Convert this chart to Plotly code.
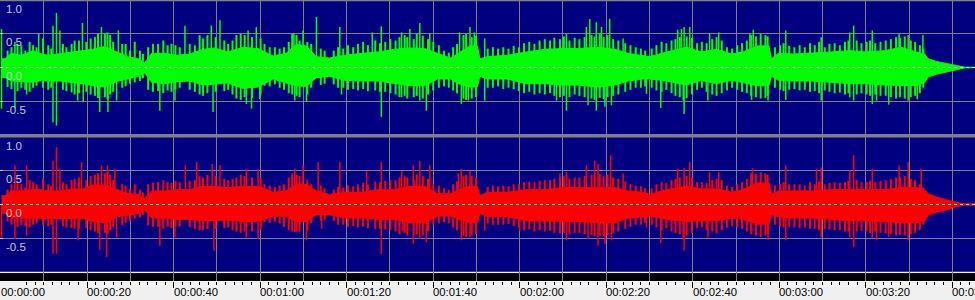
import plotly.graph_objects as go

# ---------------- data ----------------
# solid core of each channel (seconds, amplitude)
t_env = [0.2, 1.0, 2.5, 4.8, 7.5, 9.5, 11.0, 13.6, 16.8, 19.0,
         21.3, 24.0, 27.1, 29.4, 31.8, 33.3, 34.9, 38.0, 40.6, 43.7,
         46.8, 49.5, 52.5, 56.0, 59.5, 63.0, 66.0, 68.3, 70.6, 73.0,
         76.0, 79.5, 83.5, 87.3, 91.0, 94.5, 98.0, 101.0, 104.0, 105.8,
         108.5, 110.2, 110.8, 112.5, 117.0, 121.5, 126.0, 129.6, 133.5, 138.0,
         142.0, 145.0, 148.5,
         150.0, 154.0, 158.5, 162.0, 165.5, 169.0, 171.6, 175.0, 177.6, 178.2,
         179.8, 183.2, 187.4, 192.0, 196.3, 200.0, 204.4, 208.2, 211.7, 213.6,
         214.4, 216.3, 218.6, 221.0, 223.0, 225.6]

green_hi = [0.13, 0.13, 0.21, 0.18, 0.25, 0.20, 0.18, 0.20, 0.23, 0.25,
            0.27, 0.31, 0.23, 0.16, 0.13, 0.07, 0.21, 0.21, 0.18, 0.20,
            0.27, 0.29, 0.23, 0.30, 0.28, 0.17, 0.21, 0.34, 0.32, 0.16,
            0.14, 0.18, 0.21, 0.23, 0.27, 0.29, 0.28, 0.21, 0.14, 0.21,
            0.32, 0.32, 0.13, 0.16, 0.18, 0.23, 0.27, 0.28, 0.28, 0.30,
            0.27, 0.21, 0.18,
            0.16, 0.23, 0.30, 0.23, 0.27, 0.20, 0.23, 0.32, 0.32, 0.13,
            0.21, 0.20, 0.21, 0.23, 0.25, 0.23, 0.25, 0.30, 0.23, 0.20,
            0.13, 0.09, 0.06, 0.025, 0.005, 0.005]
green_lo = [-0.15, -0.15, -0.20, -0.21, -0.22, -0.19, -0.20, -0.20, -0.22, -0.24,
            -0.27, -0.29, -0.20, -0.17, -0.13, -0.08, -0.22, -0.24, -0.21, -0.20,
            -0.26, -0.25, -0.23, -0.31, -0.29, -0.17, -0.23, -0.27, -0.28, -0.15,
            -0.13, -0.19, -0.20, -0.20, -0.24, -0.27, -0.27, -0.17, -0.17, -0.24,
            -0.29, -0.29, -0.13, -0.17, -0.17, -0.24, -0.24, -0.26, -0.26, -0.29,
            -0.26, -0.20, -0.17,
            -0.17, -0.20, -0.26, -0.19, -0.24, -0.19, -0.22, -0.27, -0.27, -0.13,
            -0.19, -0.20, -0.20, -0.22, -0.24, -0.24, -0.26, -0.27, -0.27, -0.22,
            -0.14, -0.10, -0.07, -0.03, -0.005, -0.005]
red_hi = [0.13, 0.13, 0.20, 0.20, 0.22, 0.22, 0.20, 0.20, 0.23, 0.23,
          0.29, 0.29, 0.22, 0.16, 0.15, 0.09, 0.20, 0.20, 0.22, 0.22,
          0.27, 0.27, 0.25, 0.27, 0.27, 0.18, 0.20, 0.30, 0.30, 0.20,
          0.15, 0.18, 0.18, 0.22, 0.22, 0.27, 0.27, 0.16, 0.16, 0.22,
          0.27, 0.27, 0.13, 0.18, 0.18, 0.22, 0.22, 0.25, 0.25, 0.25,
          0.25, 0.20, 0.18,
          0.15, 0.22, 0.27, 0.23, 0.23, 0.18, 0.22, 0.32, 0.32, 0.15,
          0.20, 0.20, 0.20, 0.22, 0.22, 0.22, 0.22, 0.25, 0.25, 0.22,
          0.16, 0.11, 0.07, 0.03, 0.01, 0.01]
red_lo = [-0.13, -0.13, -0.20, -0.20, -0.21, -0.20, -0.20, -0.20, -0.21, -0.21,
          -0.25, -0.27, -0.18, -0.16, -0.13, -0.08, -0.20, -0.20, -0.22, -0.22,
          -0.24, -0.24, -0.23, -0.25, -0.25, -0.17, -0.18, -0.25, -0.25, -0.15,
          -0.15, -0.20, -0.20, -0.22, -0.22, -0.27, -0.27, -0.17, -0.17, -0.22,
          -0.27, -0.27, -0.13, -0.18, -0.18, -0.24, -0.24, -0.25, -0.25, -0.27,
          -0.27, -0.20, -0.18,
          -0.17, -0.22, -0.25, -0.24, -0.24, -0.20, -0.22, -0.29, -0.29, -0.15,
          -0.18, -0.20, -0.20, -0.22, -0.24, -0.24, -0.25, -0.27, -0.27, -0.24,
          -0.16, -0.11, -0.08, -0.03, -0.01, -0.01]

# jagged fringe columns around the core (seconds, top, bottom)
t_fringe = [1.6, 2.5, 3.9, 4.8, 5.7, 6.7, 7.5, 8.3, 9.8, 11.0,
            11.7, 14.4, 15.2, 16.4, 17.1, 18.1, 19.8, 20.8, 21.8, 22.5,
            24.1, 24.7, 25.3, 26.0, 28.1, 28.9, 29.9, 31.0, 32.2, 32.9,
            34.1, 35.2, 36.4, 37.6, 38.6, 39.5, 40.4, 41.4, 43.7, 44.9,
            46.0, 46.8, 47.8, 49.7, 51.7, 52.6, 53.6, 54.5, 55.5, 56.4,
            58.1, 60.1, 61.0, 62.2, 63.4, 64.5, 65.5, 66.6, 67.4, 68.4,
            69.1, 70.9, 71.8, 74.0, 74.9,
            77.0, 78.0, 79.2, 80.3, 81.5, 82.6, 83.8, 84.9, 86.6, 87.7,
            88.9, 90.1, 91.3, 92.2, 93.4, 94.0, 95.5, 96.2, 97.6, 98.8,
            100.0, 101.3, 102.5, 103.6, 104.6, 105.5, 107.0, 107.6, 108.9, 109.9,
            112.6, 113.8, 115.0, 116.2, 117.4, 118.6, 119.8, 121.0, 122.2, 123.4,
            124.6, 125.8, 127.0, 128.0, 129.3, 130.2, 131.5, 132.7, 133.8, 135.0,
            136.6, 137.3, 138.5, 139.4, 140.3, 141.6, 142.8, 144.4, 145.6, 146.8,
            148.0, 149.0,
            150.5, 151.6, 152.8, 153.9, 155.1, 156.0, 157.0, 158.6, 159.8, 161.0,
            162.1, 163.2, 164.5, 165.5, 166.7, 167.9, 169.1, 170.3, 171.4, 172.5,
            173.5, 174.6, 175.7, 176.8, 177.3, 179.0, 180.2, 181.0, 182.3, 183.5,
            184.7, 185.9, 187.1, 188.2, 189.2, 190.5, 191.6, 192.8, 194.0, 195.2,
            196.0, 197.9, 199.0, 200.2, 201.0, 202.2, 203.4, 204.6, 205.8, 207.0,
            207.9, 209.0, 210.4, 211.4, 212.5, 213.3]

green_f_hi = [0.25, 0.30, 0.35, 0.33, 0.25, 0.38, 0.33, 0.30, 0.43, 0.33,
              0.28, 0.35, 0.30, 0.35, 0.40, 0.40, 0.38, 0.43, 0.45, 0.50,
              0.50, 0.52, 0.48, 0.38, 0.35, 0.35, 0.25, 0.38, 0.25, 0.20,
              0.30, 0.35, 0.35, 0.40, 0.33, 0.35, 0.33, 0.30, 0.35, 0.33,
              0.48, 0.43, 0.48, 0.45, 0.40, 0.35, 0.40, 0.48, 0.50, 0.48,
              0.45, 0.43, 0.35, 0.30, 0.30, 0.28, 0.30, 0.38, 0.50, 0.48,
              0.40, 0.38, 0.35, 0.28, 0.25,
              0.25, 0.30, 0.28, 0.33, 0.30, 0.35, 0.38, 0.33, 0.40, 0.36,
              0.38, 0.42, 0.40, 0.45, 0.48, 0.45, 0.42, 0.50, 0.47, 0.42,
              0.38, 0.33, 0.25, 0.22, 0.30, 0.35, 0.48, 0.50, 0.45, 0.47,
              0.28, 0.30, 0.28, 0.30, 0.28, 0.32, 0.30, 0.36, 0.38, 0.35,
              0.40, 0.42, 0.40, 0.44, 0.42, 0.46, 0.40, 0.44, 0.42, 0.45,
              0.48, 0.46, 0.50, 0.45, 0.48, 0.42, 0.40, 0.36, 0.33, 0.30,
              0.28, 0.25,
              0.28, 0.33, 0.38, 0.36, 0.40, 0.42, 0.45, 0.46, 0.44, 0.36,
              0.38, 0.36, 0.42, 0.45, 0.40, 0.30, 0.28, 0.33, 0.36, 0.40,
              0.48, 0.46, 0.50, 0.48, 0.46, 0.30, 0.33, 0.36, 0.32, 0.30,
              0.33, 0.30, 0.36, 0.33, 0.38, 0.30, 0.35, 0.36, 0.33, 0.38,
              0.40, 0.40, 0.36, 0.38, 0.40, 0.36, 0.38, 0.40, 0.42, 0.45,
              0.44, 0.46, 0.40, 0.38, 0.33, 0.28]
green_f_lo = [-0.29, -0.32, -0.35, -0.30, -0.33, -0.36, -0.30, -0.27, -0.30, -0.33,
              -0.30, -0.33, -0.35, -0.37, -0.40, -0.38, -0.36, -0.40, -0.42, -0.45,
              -0.44, -0.47, -0.40, -0.36, -0.30, -0.28, -0.24, -0.22, -0.20, -0.16,
              -0.33, -0.36, -0.35, -0.38, -0.34, -0.36, -0.32, -0.30, -0.33, -0.36,
              -0.40, -0.42, -0.38, -0.36, -0.35, -0.33, -0.40, -0.46, -0.48, -0.44,
              -0.45, -0.40, -0.27, -0.28, -0.25, -0.30, -0.33, -0.38, -0.40, -0.42,
              -0.44, -0.40, -0.30, -0.26, -0.24,
              -0.25, -0.30, -0.30, -0.33, -0.32, -0.34, -0.32, -0.35, -0.34, -0.36,
              -0.36, -0.38, -0.40, -0.44, -0.42, -0.46, -0.44, -0.42, -0.46, -0.40,
              -0.34, -0.30, -0.28, -0.30, -0.34, -0.38, -0.46, -0.48, -0.46, -0.44,
              -0.30, -0.30, -0.28, -0.32, -0.30, -0.32, -0.35, -0.38, -0.36, -0.40,
              -0.38, -0.40, -0.38, -0.42, -0.44, -0.42, -0.44, -0.40, -0.42, -0.44,
              -0.46, -0.48, -0.45, -0.47, -0.44, -0.42, -0.40, -0.36, -0.33, -0.30,
              -0.30, -0.28,
              -0.30, -0.34, -0.36, -0.33, -0.38, -0.42, -0.44, -0.45, -0.40, -0.33,
              -0.30, -0.36, -0.40, -0.42, -0.38, -0.34, -0.30, -0.33, -0.36, -0.38,
              -0.42, -0.44, -0.46, -0.45, -0.42, -0.30, -0.33, -0.35, -0.33, -0.32,
              -0.34, -0.33, -0.36, -0.35, -0.38, -0.34, -0.36, -0.38, -0.37, -0.40,
              -0.38, -0.40, -0.38, -0.40, -0.42, -0.40, -0.42, -0.42, -0.44, -0.46,
              -0.44, -0.46, -0.44, -0.42, -0.38, -0.30]
red_f_hi = [0.22, 0.30, 0.33, 0.30, 0.25, 0.36, 0.33, 0.30, 0.38, 0.30,
            0.28, 0.33, 0.30, 0.36, 0.38, 0.40, 0.36, 0.42, 0.44, 0.46,
            0.46, 0.48, 0.44, 0.36, 0.30, 0.28, 0.23, 0.30, 0.22, 0.18,
            0.30, 0.32, 0.33, 0.36, 0.33, 0.32, 0.35, 0.33, 0.35, 0.36,
            0.42, 0.40, 0.44, 0.42, 0.38, 0.36, 0.38, 0.40, 0.44, 0.42,
            0.40, 0.40, 0.30, 0.28, 0.26, 0.28, 0.30, 0.40, 0.46, 0.44,
            0.42, 0.36, 0.30, 0.28, 0.24,
            0.22, 0.26, 0.25, 0.28, 0.27, 0.30, 0.32, 0.30, 0.34, 0.33,
            0.35, 0.36, 0.36, 0.40, 0.42, 0.40, 0.38, 0.44, 0.42, 0.38,
            0.30, 0.28, 0.24, 0.22, 0.30, 0.34, 0.42, 0.44, 0.42, 0.40,
            0.26, 0.28, 0.27, 0.28, 0.27, 0.30, 0.30, 0.33, 0.34, 0.33,
            0.35, 0.36, 0.36, 0.38, 0.40, 0.42, 0.38, 0.40, 0.40, 0.42,
            0.44, 0.43, 0.45, 0.42, 0.44, 0.40, 0.38, 0.34, 0.30, 0.28,
            0.27, 0.24,
            0.24, 0.30, 0.33, 0.32, 0.36, 0.38, 0.40, 0.42, 0.40, 0.33,
            0.33, 0.32, 0.36, 0.38, 0.36, 0.28, 0.26, 0.30, 0.33, 0.38,
            0.46, 0.45, 0.48, 0.46, 0.44, 0.28, 0.30, 0.33, 0.30, 0.30,
            0.30, 0.28, 0.33, 0.30, 0.34, 0.30, 0.32, 0.33, 0.32, 0.33,
            0.35, 0.36, 0.33, 0.33, 0.35, 0.33, 0.35, 0.36, 0.38, 0.40,
            0.40, 0.42, 0.38, 0.36, 0.30, 0.25]
red_f_lo = [-0.25, -0.30, -0.33, -0.30, -0.32, -0.34, -0.30, -0.28, -0.30, -0.32,
            -0.30, -0.32, -0.34, -0.35, -0.36, -0.36, -0.35, -0.38, -0.40, -0.42,
            -0.42, -0.44, -0.38, -0.33, -0.30, -0.27, -0.24, -0.21, -0.19, -0.15,
            -0.31, -0.33, -0.33, -0.36, -0.33, -0.35, -0.33, -0.32, -0.34, -0.36,
            -0.38, -0.38, -0.36, -0.36, -0.35, -0.34, -0.38, -0.40, -0.42, -0.40,
            -0.40, -0.38, -0.26, -0.27, -0.25, -0.28, -0.33, -0.38, -0.40, -0.40,
            -0.40, -0.38, -0.28, -0.24, -0.22,
            -0.24, -0.30, -0.30, -0.33, -0.32, -0.34, -0.33, -0.35, -0.36, -0.36,
            -0.37, -0.38, -0.40, -0.44, -0.42, -0.46, -0.45, -0.44, -0.46, -0.40,
            -0.30, -0.28, -0.26, -0.28, -0.34, -0.38, -0.46, -0.48, -0.46, -0.44,
            -0.28, -0.30, -0.30, -0.30, -0.29, -0.32, -0.34, -0.38, -0.37, -0.40,
            -0.38, -0.40, -0.39, -0.42, -0.43, -0.42, -0.44, -0.42, -0.42, -0.44,
            -0.45, -0.47, -0.46, -0.47, -0.45, -0.42, -0.40, -0.36, -0.33, -0.30,
            -0.30, -0.27,
            -0.30, -0.34, -0.38, -0.35, -0.40, -0.42, -0.44, -0.46, -0.42, -0.35,
            -0.34, -0.38, -0.40, -0.42, -0.38, -0.34, -0.32, -0.34, -0.36, -0.40,
            -0.44, -0.46, -0.48, -0.46, -0.44, -0.30, -0.32, -0.34, -0.33, -0.34,
            -0.35, -0.34, -0.36, -0.36, -0.38, -0.36, -0.37, -0.38, -0.38, -0.40,
            -0.40, -0.40, -0.39, -0.40, -0.42, -0.40, -0.42, -0.43, -0.44, -0.46,
            -0.45, -0.46, -0.44, -0.42, -0.38, -0.30]

# tall individual peaks (seconds, amplitude)
green_up_t = [0.2, 3.3, 8.8, 12.1, 12.9, 13.7, 18.9, 23.3, 27.2, 42.6, 48.7, 50.7, 57.2, 59.1,
              67.8, 69.9, 73.0, 78.4, 85.9, 88.0, 92.7, 94.6, 96.9, 99.2, 106.1, 108.5, 109.5,
              111.9, 130.8, 135.4, 136.2, 137.7, 138.9, 140.8, 143.9, 156.5, 157.4, 158.0,
              159.3, 163.9, 166.0, 173.2, 174.0, 181.5, 189.7, 196.3, 197.2, 201.5, 207.7,
              209.8, 213.2]
green_up_v = [0.57, 0.38, 0.50, 0.62, 0.81, 0.55, 0.66, 0.60, 0.55, 0.62, 0.62, 0.70, 0.55, 0.60,
              0.51, 0.55, 0.75, 0.60, 0.52, 0.61, 0.52, 0.57, 0.66, 0.50, 0.52, 0.60, 0.52,
              0.43, 0.50, 0.60, 0.72, 0.67, 0.60, 0.72, 0.43, 0.56, 0.57, 0.60,
              0.60, 0.50, 0.52, 0.50, 0.56, 0.55, 0.45, 0.52, 0.62, 0.55, 0.50,
              0.48, 0.48]
green_dn_t = [0.2, 3.3, 6.0, 12.1, 12.9, 17.8, 19.1, 22.9, 24.8, 26.8, 36.8, 40.3, 49.1, 56.8,
              58.0, 59.9, 68.0, 70.7, 78.8, 88.0, 92.7, 96.9, 98.4, 106.5, 108.1, 111.9,
              128.5, 130.8, 135.8, 137.7, 139.7, 141.2, 149.3, 152.6, 157.8, 158.0, 163.5,
              173.6, 177.4, 181.5, 189.7, 196.3, 197.2, 201.5, 202.5, 205.3, 209.8, 211.9]
green_dn_v = [-0.61, -0.60, -0.40, -0.81, -0.86, -0.49, -0.51, -0.66, -0.66, -0.49, -0.64, -0.49,
              -0.66, -0.54, -0.61, -0.47, -0.49, -0.51, -0.40, -0.73, -0.44, -0.49, -0.64,
              -0.54, -0.49, -0.49, -0.49, -0.64, -0.56, -0.64, -0.58, -0.56, -0.39, -0.60,
              -0.49, -0.69, -0.49, -0.48, -0.49, -0.48, -0.49, -0.44, -0.49, -0.54, -0.49,
              -0.55, -0.49, -0.47]

red_up_t = [3.3, 6.0, 12.1, 12.9, 13.7, 18.7, 23.3, 24.7, 26.4, 42.7, 45.3, 48.9, 50.7, 56.8,
            59.5, 68.0, 69.9, 73.4, 78.4, 84.6, 88.0, 92.7, 95.4, 96.9, 99.2, 105.8, 106.5,
            108.5, 129.3, 130.8, 135.4, 137.3, 138.1, 141.0, 143.9, 156.5, 158.0, 159.3,
            163.9, 166.0, 173.8, 181.5, 188.6, 189.7, 196.3, 197.2, 201.5, 207.7, 209.8, 212.8]
red_up_v = [0.58, 0.58, 0.65, 0.85, 0.53, 0.63, 0.58, 0.58, 0.53, 0.58, 0.63, 0.60, 0.58, 0.53,
            0.53, 0.53, 0.58, 0.63, 0.63, 0.50, 0.63, 0.50, 0.58, 0.65, 0.58, 0.46, 0.53,
            0.50, 0.46, 0.48, 0.58, 0.65, 0.60, 0.73, 0.46, 0.53, 0.54, 0.63,
            0.48, 0.48, 0.54, 0.58, 0.53, 0.55, 0.50, 0.73, 0.53, 0.58, 0.63, 0.53]
red_dn_t = [0.2, 3.3, 6.0, 12.1, 12.9, 17.9, 22.9, 24.5, 26.8, 36.8, 40.3, 49.3, 56.8, 59.5,
            68.0, 70.7, 74.2, 88.0, 93.0, 95.4, 96.9, 98.4, 106.5, 108.5, 111.9, 120.0,
            130.8, 135.8, 138.1, 139.7, 141.2, 149.3, 152.6, 157.8, 158.0, 163.5, 173.6,
            177.4, 181.5, 189.7, 196.3, 197.2, 201.5, 202.5, 205.3, 209.8]
red_dn_v = [-0.49, -0.51, -0.46, -0.73, -0.73, -0.53, -0.67, -0.78, -0.49, -0.61, -0.49, -0.68,
            -0.49, -0.51, -0.41, -0.53, -0.36, -0.73, -0.40, -0.58, -0.51, -0.56, -0.53,
            -0.49, -0.39, -0.39, -0.53, -0.51, -0.61, -0.58, -0.53, -0.34, -0.57, -0.53,
            -0.68, -0.49, -0.44, -0.53, -0.53, -0.49, -0.49, -0.63, -0.49, -0.53, -0.48,
            -0.53]

tick_sec = [0, 20, 40, 60, 80, 100, 120, 140, 160, 180, 200, 220]
tick_text = ["00:00:00", "00:00:20", "00:00:40", "00:01:00", "00:01:20", "00:01:40",
             "00:02:00", "00:02:20", "00:02:40", "00:03:00", "00:03:20", "00:03:40"]
y_vals = [1.0, 0.5, 0.0, -0.5]
y_text = ["1.0", "0.5", "0.0", "-0.5"]

# ---------------- styling ----------------
NAVY = "#000080"
GRID = "#808080"
GREEN = "#00ff00"
RED = "#ff0000"
LABEL = "#c8c8d0"
FONT = "Liberation Sans, Arial, sans-serif"
X_RANGE = [-0.15, 225.25]


def body(t, hi, lo, color, xa, ya):
    return go.Scatter(x=t + t[::-1], y=hi + lo[::-1], mode="lines", fill="toself",
                      fillcolor=color, line=dict(color=color, width=1),
                      xaxis=xa, yaxis=ya, hoverinfo="skip", showlegend=False)


def columns(ts, tops, bottoms, color, width, xa, ya):
    xs, ys = [], []
    for t, a, b in zip(ts, tops, bottoms):
        xs += [t, t, None]
        ys += [b, a, None]
    return go.Scatter(x=xs, y=ys, mode="lines", line=dict(color=color, width=width),
                      xaxis=xa, yaxis=ya, hoverinfo="skip", showlegend=False)


fig = go.Figure()
fig.add_trace(body(t_env, green_hi, green_lo, GREEN, "x", "y"))
fig.add_trace(columns(t_fringe, green_f_hi, green_f_lo, GREEN, 2, "x", "y"))
fig.add_trace(columns(green_up_t, green_up_v, [0] * len(green_up_t), GREEN, 1.5, "x", "y"))
fig.add_trace(columns(green_dn_t, [0] * len(green_dn_t), green_dn_v, GREEN, 1.5, "x", "y"))
fig.add_trace(body(t_env, red_hi, red_lo, RED, "x2", "y2"))
fig.add_trace(columns(t_fringe, red_f_hi, red_f_lo, RED, 2, "x2", "y2"))
fig.add_trace(columns(red_up_t, red_up_v, [0] * len(red_up_t), RED, 1.5, "x2", "y2"))
fig.add_trace(columns(red_dn_t, [0] * len(red_dn_t), red_dn_v, RED, 1.5, "x3", "y2"))

H = 300.0
y_top_dom = [1 - 135 / H, 1.0]
y_bot_dom = [1 - 281 / H, 1 - 137 / H]
bot_low = -1 - 9 * 2 / 135.0

yaxis_common = dict(range=[-1, 1], tickmode="array", tickvals=y_vals, ticktext=y_text,
                    ticks="inside", ticklen=3, tickcolor=LABEL,
                    ticklabelposition="inside bottom", ticklabelstandoff=3,
                    tickfont=dict(family=FONT, size=11.5, color=LABEL),
                    showgrid=True, gridcolor=GRID, gridwidth=1, zeroline=False,
                    showline=False, fixedrange=True, automargin=False)

fig.update_layout(
    width=975, height=300,
    margin=dict(l=0, r=0, t=0, b=0, autoexpand=False),
    paper_bgcolor="#f0f0f0", plot_bgcolor=NAVY,
    showlegend=False,
    xaxis=dict(domain=[0, 1], anchor="y", range=X_RANGE, tickmode="linear", tick0=0, dtick=10,
               showticklabels=False, ticks="", showgrid=True, gridcolor=GRID,
               zeroline=False, showline=False, automargin=False),
    yaxis=dict(domain=y_top_dom, anchor="x", **yaxis_common),
    xaxis2=dict(domain=[0, 1], anchor="y2", range=X_RANGE, tickmode="array",
                tickvals=tick_sec, ticktext=tick_text, ticks="outside", ticklen=6,
                tickcolor="black", tickwidth=1, showticklabels=False,
                showgrid=True, gridcolor=GRID, zeroline=False, showline=False,
                automargin=False,
                minor=dict(tickmode="linear", tick0=0, dtick=2, ticks="outside", ticklen=3,
                           tickcolor="black", showgrid=False)),
    xaxis3=dict(overlaying="x2", anchor="y2", range=X_RANGE, tickmode="linear", tick0=0,
                dtick=10, showticklabels=False, ticks="", showgrid=True, gridcolor=GRID,
                zeroline=False, showline=False, automargin=False),
    yaxis2=dict(domain=y_bot_dom, anchor="x2", **{**yaxis_common, "range": [bot_low, 1]}),
)

# time labels, left-aligned at their tick like the reference
for sec, txt in zip(tick_sec, tick_text):
    fig.add_annotation(x=sec, xref="x2", y=(H - 292) / H, yref="paper", text=txt,
                       showarrow=False, xanchor="left", yanchor="middle", xshift=-1,
                       borderpad=0, font=dict(family=FONT, size=11.3, color="black"))

shapes = []
# dashed centre lines (above waveforms)
for xr, ya in (("x domain", "y"), ("x2 domain", "y2")):
    shapes.append(dict(type="line", xref=xr, yref=ya, x0=0, x1=1, y0=0, y1=0, layer="above",
                       line=dict(color="#d0d0d0", width=1, dash="3px,3px")))
# light line + black band under the lower channel (below gridlines)
shapes.append(dict(type="rect", xref="x2 domain", yref="y2", x0=0, x1=1, y0=-1.02, y1=-0.995,
                   layer="below", line=dict(width=0), fillcolor="#f0f0f0"))
shapes.append(dict(type="rect", xref="x2 domain", yref="y2", x0=0, x1=1, y0=bot_low, y1=-1.02,
                   layer="below", line=dict(width=0), fillcolor="black"))
# grey separator between channels and top border
shapes.append(dict(type="rect", xref="paper", yref="paper", x0=0, x1=1,
                   y0=1 - 137.5 / H, y1=1 - 134 / H, layer="above",
                   line=dict(width=0), fillcolor=GRID))
shapes.append(dict(type="rect", xref="paper", yref="paper", x0=0, x1=1,
                   y0=1 - 1.2 / H, y1=1, layer="above",
                   line=dict(width=0), fillcolor=GRID))
fig.update_layout(shapes=shapes)

fig.write_html("out.html")
